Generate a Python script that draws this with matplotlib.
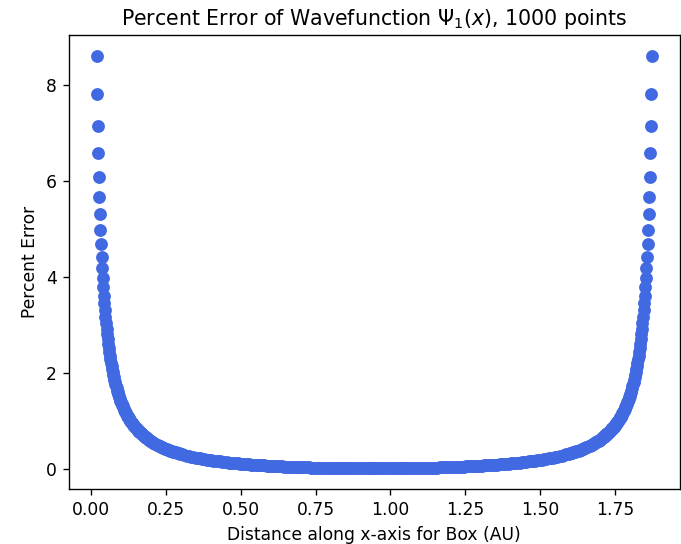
import matplotlib
matplotlib.use("Agg")
import matplotlib.pyplot as plt
import numpy as np

# ---- data ----
# left steep part (individual grid points near the wall)
x_left_edge = [0.0186, 0.0204, 0.0223, 0.0241, 0.0260, 0.0279, 0.0297, 0.0316, 0.0334, 0.0353,
               0.0371, 0.0390, 0.0409, 0.0427, 0.0446, 0.0464, 0.0483, 0.0501, 0.0520, 0.0539,
               0.0557, 0.0576, 0.0594, 0.0613, 0.0631, 0.0650, 0.0669, 0.0687, 0.0706, 0.0724,
               0.0743, 0.0761, 0.0780, 0.0799, 0.0817, 0.0836, 0.0854, 0.0873, 0.0891, 0.0910,
               0.0929, 0.0947, 0.0966, 0.0984, 0.1003, 0.1021, 0.1040, 0.1058, 0.1077, 0.1096,
               0.1114, 0.1133, 0.1151, 0.1170, 0.1188, 0.1207, 0.1226, 0.1244, 0.1263, 0.1281,
               0.1300, 0.1318, 0.1337, 0.1356, 0.1374, 0.1393, 0.1411, 0.1430, 0.1448, 0.1467,
               0.1486, 0.1504, 0.1523, 0.1541, 0.1560, 0.1578, 0.1597, 0.1616, 0.1634, 0.1653,
               0.1671, 0.1690, 0.1708, 0.1727, 0.1746, 0.1764, 0.1783, 0.1801, 0.1820, 0.1838,
               0.1857]
y_left_edge = [8.62, 7.82, 7.16, 6.59, 6.10, 5.68, 5.31, 4.98, 4.69, 4.43,
               4.20, 3.98, 3.79, 3.62, 3.46, 3.31, 3.17, 3.04, 2.93, 2.82,
               2.71, 2.62, 2.53, 2.45, 2.37, 2.29, 2.22, 2.15, 2.09, 2.03,
               1.97, 1.92, 1.87, 1.82, 1.77, 1.73, 1.69, 1.64, 1.61, 1.57,
               1.53, 1.50, 1.46, 1.43, 1.40, 1.37, 1.34, 1.31, 1.29, 1.26,
               1.24, 1.21, 1.19, 1.17, 1.14, 1.12, 1.10, 1.08, 1.06, 1.04,
               1.03, 1.01, 0.99, 0.97, 0.96, 0.94, 0.93, 0.91, 0.90, 0.88,
               0.87, 0.86, 0.84, 0.83, 0.82, 0.80, 0.79, 0.78, 0.77, 0.76,
               0.75, 0.74, 0.73, 0.72, 0.71, 0.70, 0.69, 0.68, 0.67, 0.66,
               0.65]

# left bend
x_left_bend = [0.1894, 0.1931, 0.1968, 0.2006, 0.2043, 0.2080, 0.2117, 0.2154, 0.2191, 0.2228,
               0.2266, 0.2303, 0.2340, 0.2377, 0.2414, 0.2451, 0.2488, 0.2526, 0.2563, 0.2600,
               0.2637, 0.2674, 0.2711, 0.2748, 0.2786, 0.2823, 0.2860, 0.2897, 0.2934, 0.2971]
y_left_bend = [0.632, 0.616, 0.600, 0.585, 0.570, 0.556, 0.542, 0.529, 0.516, 0.504,
               0.492, 0.481, 0.470, 0.459, 0.449, 0.438, 0.429, 0.419, 0.410, 0.401,
               0.392, 0.384, 0.376, 0.368, 0.360, 0.353, 0.346, 0.338, 0.332, 0.325]

# flat middle, left half (up to the centre of the box)
x_mid_left = [0.3045, 0.3120, 0.3194, 0.3268, 0.3343, 0.3417, 0.3491, 0.3566, 0.3640, 0.3714,
              0.3788, 0.3863, 0.3937, 0.4011, 0.4085, 0.4160, 0.4234, 0.4308, 0.4383, 0.4457,
              0.4531, 0.4605, 0.4680, 0.4754, 0.4828, 0.4903, 0.4977, 0.5051, 0.5125, 0.5200,
              0.5274, 0.5348, 0.5422, 0.5497, 0.5571, 0.5645, 0.5720, 0.5794, 0.5868, 0.5942,
              0.6017, 0.6091, 0.6165, 0.6240, 0.6314, 0.6388, 0.6462, 0.6537, 0.6611, 0.6685,
              0.6759, 0.6834, 0.6908, 0.6982, 0.7057, 0.7131, 0.7205, 0.7279, 0.7354, 0.7428,
              0.7502, 0.7577, 0.7651, 0.7725, 0.7799, 0.7874, 0.7948, 0.8022, 0.8097, 0.8171,
              0.8245, 0.8319, 0.8394, 0.8468, 0.8542, 0.8616, 0.8691, 0.8765, 0.8839, 0.8914,
              0.8988, 0.9062, 0.9136, 0.9211, 0.9285, 0.9359, 0.9434, 0.9461]
y_mid_left = [0.312, 0.300, 0.288, 0.277, 0.266, 0.256, 0.246, 0.237, 0.228, 0.220,
              0.212, 0.204, 0.197, 0.190, 0.183, 0.176, 0.170, 0.164, 0.158, 0.152,
              0.147, 0.142, 0.137, 0.132, 0.127, 0.123, 0.119, 0.115, 0.110, 0.107,
              0.103, 0.099, 0.096, 0.092, 0.089, 0.086, 0.083, 0.080, 0.077, 0.075,
              0.072, 0.069, 0.067, 0.065, 0.062, 0.060, 0.058, 0.056, 0.054, 0.052,
              0.050, 0.048, 0.047, 0.045, 0.043, 0.042, 0.040, 0.039, 0.038, 0.036,
              0.035, 0.034, 0.033, 0.032, 0.031, 0.030, 0.029, 0.028, 0.027, 0.026,
              0.026, 0.025, 0.024, 0.024, 0.023, 0.023, 0.022, 0.022, 0.021, 0.021,
              0.021, 0.021, 0.020, 0.020, 0.020, 0.020, 0.020, 0.020]

# flat middle, right half
x_mid_right = [0.9489, 0.9564, 0.9638, 0.9712, 0.9786, 0.9861, 0.9935, 1.0009, 1.0084, 1.0158,
               1.0232, 1.0306, 1.0381, 1.0455, 1.0529, 1.0603, 1.0678, 1.0752, 1.0826, 1.0901,
               1.0975, 1.1049, 1.1123, 1.1198, 1.1272, 1.1346, 1.1421, 1.1495, 1.1569, 1.1643,
               1.1718, 1.1792, 1.1866, 1.1941, 1.2015, 1.2089, 1.2163, 1.2238, 1.2312, 1.2386,
               1.2460, 1.2535, 1.2609, 1.2683, 1.2758, 1.2832, 1.2906, 1.2980, 1.3055, 1.3129,
               1.3203, 1.3278, 1.3352, 1.3426, 1.3500, 1.3575, 1.3649, 1.3723, 1.3798, 1.3872,
               1.3946, 1.4020, 1.4095, 1.4169, 1.4243, 1.4317, 1.4392, 1.4466, 1.4540, 1.4615,
               1.4689, 1.4763, 1.4837, 1.4912, 1.4986, 1.5060, 1.5135, 1.5209, 1.5283, 1.5357,
               1.5432, 1.5506, 1.5580, 1.5654, 1.5729, 1.5803, 1.5877]
y_mid_right = [0.020, 0.020, 0.020, 0.020, 0.020, 0.021, 0.021, 0.021, 0.021, 0.022,
               0.022, 0.023, 0.023, 0.024, 0.024, 0.025, 0.026, 0.026, 0.027, 0.028,
               0.029, 0.030, 0.031, 0.032, 0.033, 0.034, 0.035, 0.036, 0.038, 0.039,
               0.040, 0.042, 0.043, 0.045, 0.047, 0.048, 0.050, 0.052, 0.054, 0.056,
               0.058, 0.060, 0.062, 0.065, 0.067, 0.069, 0.072, 0.075, 0.077, 0.080,
               0.083, 0.086, 0.089, 0.092, 0.096, 0.099, 0.103, 0.107, 0.110, 0.115,
               0.119, 0.123, 0.127, 0.132, 0.137, 0.142, 0.147, 0.152, 0.158, 0.164,
               0.170, 0.176, 0.183, 0.190, 0.197, 0.204, 0.212, 0.220, 0.228, 0.237,
               0.246, 0.256, 0.266, 0.277, 0.288, 0.300, 0.312]

# right bend
x_right_bend = [1.5952, 1.5989, 1.6026, 1.6063, 1.6100, 1.6137, 1.6174, 1.6212, 1.6249, 1.6286,
                1.6323, 1.6360, 1.6397, 1.6434, 1.6472, 1.6509, 1.6546, 1.6583, 1.6620, 1.6657,
                1.6694, 1.6732, 1.6769, 1.6806, 1.6843, 1.6880, 1.6917, 1.6954, 1.6992, 1.7029]
y_right_bend = [0.325, 0.332, 0.338, 0.346, 0.353, 0.360, 0.368, 0.376, 0.384, 0.392,
                0.401, 0.410, 0.419, 0.429, 0.438, 0.449, 0.459, 0.470, 0.481, 0.492,
                0.504, 0.516, 0.529, 0.542, 0.556, 0.570, 0.585, 0.600, 0.616, 0.632]

# right steep part
x_right_edge = [1.7066, 1.7084, 1.7103, 1.7122, 1.7140, 1.7159, 1.7177, 1.7196, 1.7214, 1.7233,
                1.7252, 1.7270, 1.7289, 1.7307, 1.7326, 1.7344, 1.7363, 1.7382, 1.7400, 1.7419,
                1.7437, 1.7456, 1.7474, 1.7493, 1.7512, 1.7530, 1.7549, 1.7567, 1.7586, 1.7604,
                1.7623, 1.7642, 1.7660, 1.7679, 1.7697, 1.7716, 1.7734, 1.7753, 1.7771, 1.7790,
                1.7809, 1.7827, 1.7846, 1.7864, 1.7883, 1.7901, 1.7920, 1.7939, 1.7957, 1.7976,
                1.7994, 1.8013, 1.8031, 1.8050, 1.8069, 1.8087, 1.8106, 1.8124, 1.8143, 1.8161,
                1.8180, 1.8199, 1.8217, 1.8236, 1.8254, 1.8273, 1.8291, 1.8310, 1.8329, 1.8347,
                1.8366, 1.8384, 1.8403, 1.8421, 1.8440, 1.8459, 1.8477, 1.8496, 1.8514, 1.8533,
                1.8551, 1.8570, 1.8589, 1.8607, 1.8626, 1.8644, 1.8663, 1.8681, 1.8700, 1.8719,
                1.8737]
y_right_edge = [0.65, 0.66, 0.67, 0.68, 0.69, 0.70, 0.71, 0.72, 0.73, 0.74,
                0.75, 0.76, 0.77, 0.78, 0.79, 0.80, 0.82, 0.83, 0.84, 0.86,
                0.87, 0.88, 0.90, 0.91, 0.93, 0.94, 0.96, 0.97, 0.99, 1.01,
                1.03, 1.04, 1.06, 1.08, 1.10, 1.12, 1.14, 1.17, 1.19, 1.21,
                1.24, 1.26, 1.29, 1.31, 1.34, 1.37, 1.40, 1.43, 1.46, 1.50,
                1.53, 1.57, 1.61, 1.64, 1.69, 1.73, 1.77, 1.82, 1.87, 1.92,
                1.97, 2.03, 2.09, 2.15, 2.22, 2.29, 2.37, 2.45, 2.53, 2.62,
                2.71, 2.82, 2.93, 3.04, 3.17, 3.31, 3.46, 3.62, 3.79, 3.98,
                4.20, 4.43, 4.69, 4.98, 5.31, 5.68, 6.10, 6.59, 7.16, 7.82,
                8.62]

x_all = np.array(x_left_edge + x_left_bend + x_mid_left + x_mid_right + x_right_bend + x_right_edge)
y_all = np.array(y_left_edge + y_left_bend + y_mid_left + y_mid_right + y_right_bend + y_right_edge)

title = r"Percent Error of Wavefunction $\Psi_1(x)$, 1000 points"
xlabel = "Distance along x-axis for Box (AU)"
ylabel = "Percent Error"
xticks = [0.00, 0.25, 0.50, 0.75, 1.00, 1.25, 1.50, 1.75]
yticks = [0, 2, 4, 6, 8]

DPI = 123
fig = plt.figure(figsize=(681 / DPI, 544 / DPI), dpi=DPI)
ax = fig.add_axes([0.1009, 0.1002, 0.8970, 0.8355])
ax.scatter(x_all, y_all, s=36, color="royalblue", edgecolors="face", linewidths=1.5)
ax.set_title(title, fontsize=12)
ax.set_xlabel(xlabel)
ax.set_ylabel(ylabel)
ax.set_xticks(xticks)
ax.set_xticklabels([f"{t:.2f}" for t in xticks])
ax.set_yticks(yticks)
ax.set_xlim(-0.0745, 1.966)
ax.set_ylim(-0.42, 9.05)

fig.savefig("out.png", dpi=DPI)
